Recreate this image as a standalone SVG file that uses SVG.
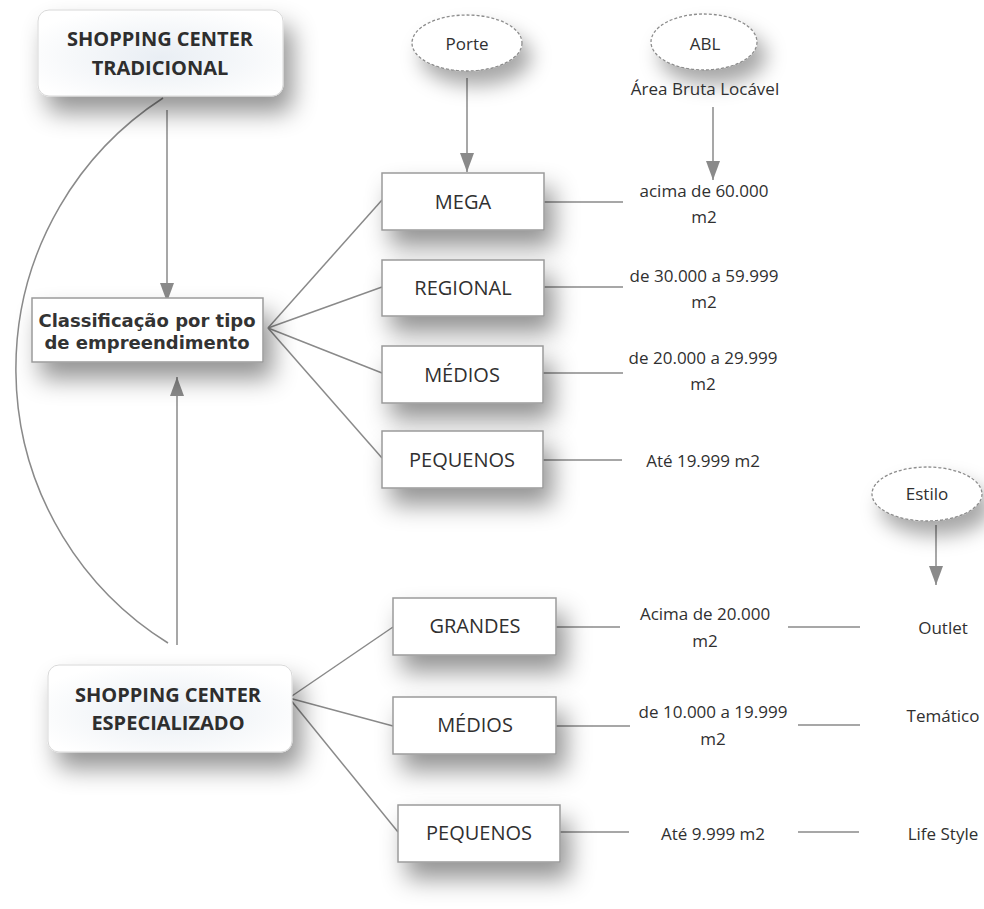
<svg xmlns="http://www.w3.org/2000/svg" width="984" height="909" viewBox="0 0 984 909">
<defs>
<style>
.box{fill:#ffffff;stroke:#9a9a9a;stroke-width:1.5}
.title{stroke:#d8d8d8;stroke-width:1}
.ell{fill:#ffffff;stroke:#8c8c8c;stroke-width:1.3;stroke-dasharray:3 2}
.ln{stroke:#8a8a8a;stroke-width:1.5;fill:none}
.t{font-family:"Open Sans","Noto Sans","DejaVu Sans",sans-serif;fill:#303030;text-anchor:middle}
.lbl{font-size:20px}
.leaf{font-size:17px}
.tb{font-family:"Open Sans","Noto Sans",sans-serif;font-weight:bold;font-size:20px;fill:#2e2e2e;text-anchor:middle}
.cb{font-family:"DejaVu Sans","Verdana",sans-serif;font-weight:bold;font-size:18px;fill:#333333;text-anchor:middle}
</style>
<filter id="sh" x="-30%" y="-40%" width="170%" height="220%">
<feDropShadow dx="9" dy="16" stdDeviation="12" flood-color="#000000" flood-opacity="0.42"/>
</filter>
<filter id="shs" x="-40%" y="-50%" width="190%" height="240%">
<feDropShadow dx="9" dy="14" stdDeviation="10" flood-color="#000000" flood-opacity="0.35"/>
</filter>
<radialGradient id="tg" cx="0.5" cy="0.55" r="0.6">
<stop offset="0" stop-color="#e9eef4"/>
<stop offset="0.6" stop-color="#f6f8fa"/>
<stop offset="1" stop-color="#ffffff"/>
</radialGradient>
<marker id="arr" markerUnits="userSpaceOnUse" markerWidth="19" markerHeight="14" viewBox="0 0 19 14" refX="19" refY="7" orient="auto">
<path d="M0,0 L19,7 L0,14 Z" fill="#8a8a8a"/>
</marker>
</defs>
<rect width="984" height="909" fill="#ffffff"/>

<g id="connectors">
<path class="ln" d="M163,98 A323,323 0 0,0 168,643"/>
<line class="ln" x1="167" y1="110" x2="167" y2="302" marker-end="url(#arr)"/>
<line class="ln" x1="177" y1="645" x2="177" y2="377" marker-end="url(#arr)"/>
<line class="ln" x1="467" y1="78" x2="467" y2="172" marker-end="url(#arr)"/>
<line class="ln" x1="713" y1="107" x2="713" y2="180" marker-end="url(#arr)"/>
<line class="ln" x1="936" y1="525" x2="936" y2="585" marker-end="url(#arr)"/>
<line class="ln" x1="268" y1="328" x2="382" y2="200"/>
<line class="ln" x1="268" y1="328" x2="382" y2="287"/>
<line class="ln" x1="268" y1="328" x2="382" y2="373"/>
<line class="ln" x1="268" y1="328" x2="382" y2="458"/>
<line class="ln" x1="544" y1="202" x2="623" y2="202"/>
<line class="ln" x1="544" y1="287" x2="623" y2="287"/>
<line class="ln" x1="543" y1="373" x2="623" y2="373"/>
<line class="ln" x1="543" y1="460" x2="622" y2="460"/>
<line class="ln" x1="289" y1="698" x2="393" y2="627"/>
<line class="ln" x1="289" y1="698" x2="393" y2="726"/>
<line class="ln" x1="289" y1="698" x2="398" y2="832"/>
<line class="ln" x1="556" y1="627" x2="620" y2="627"/>
<line class="ln" x1="556" y1="726" x2="630" y2="726"/>
<line class="ln" x1="560" y1="832" x2="629" y2="832"/>
<line class="ln" x1="788" y1="627" x2="860" y2="627"/>
<line class="ln" x1="798" y1="725" x2="860" y2="725"/>
<line class="ln" x1="798" y1="832" x2="859" y2="832"/>
</g>

<g id="tradicional">
<rect class="title" x="38" y="10" width="245" height="86" rx="11" fill="url(#tg)" filter="url(#sh)"/>
<text class="tb" x="160" y="46">SHOPPING CENTER</text>
<text class="tb" x="160" y="75">TRADICIONAL</text>
</g>

<g id="especializado">
<rect class="title" x="48" y="665" width="244" height="87" rx="11" fill="url(#tg)" filter="url(#sh)"/>
<text class="tb" x="168" y="702">SHOPPING CENTER</text>
<text class="tb" x="168" y="730">ESPECIALIZADO</text>
</g>

<g id="classificacao">
<rect class="box" x="32" y="298" width="231" height="64" filter="url(#sh)"/>
<text class="cb" x="147" y="327">Classificação por tipo</text>
<text class="cb" x="147" y="349">de empreendimento</text>
</g>

<g id="porte">
<ellipse class="ell" cx="467" cy="43" rx="55" ry="28" filter="url(#shs)"/>
<text class="t leaf" x="467" y="50">Porte</text>
</g>

<g id="abl">
<ellipse class="ell" cx="704" cy="42" rx="53" ry="28" filter="url(#shs)"/>
<text class="t leaf" x="705" y="50">ABL</text>
<text class="t leaf" x="705" y="95">Área Bruta Locável</text>
</g>

<g id="estilo">
<ellipse class="ell" cx="927" cy="494" rx="55" ry="27" filter="url(#shs)"/>
<text class="t leaf" x="927" y="500">Estilo</text>
</g>

<g id="mega">
<rect class="box" x="382" y="173" width="162" height="57" filter="url(#sh)"/>
<text class="t lbl" x="463" y="209">MEGA</text>
</g>
<g id="regional">
<rect class="box" x="382" y="260" width="162" height="56" filter="url(#sh)"/>
<text class="t lbl" x="463" y="295">REGIONAL</text>
</g>
<g id="medios1">
<rect class="box" x="382" y="346" width="161" height="57" filter="url(#sh)"/>
<text class="t lbl" x="462" y="382">MÉDIOS</text>
</g>
<g id="pequenos1">
<rect class="box" x="382" y="431" width="161" height="57" filter="url(#sh)"/>
<text class="t lbl" x="462" y="467">PEQUENOS</text>
</g>

<g id="grandes">
<rect class="box" x="393" y="598" width="163" height="57" filter="url(#sh)"/>
<text class="t lbl" x="475" y="633">GRANDES</text>
</g>
<g id="medios2">
<rect class="box" x="393" y="697" width="163" height="57" filter="url(#sh)"/>
<text class="t lbl" x="475" y="732">MÉDIOS</text>
</g>
<g id="pequenos2">
<rect class="box" x="398" y="805" width="162" height="57" filter="url(#sh)"/>
<text class="t lbl" x="479" y="840">PEQUENOS</text>
</g>

<g id="abl-mega">
<text class="t leaf" x="704" y="197">acima de 60.000</text>
<text class="t leaf" x="704" y="223">m2</text>
</g>
<g id="abl-regional">
<text class="t leaf" x="704" y="282">de 30.000 a 59.999</text>
<text class="t leaf" x="704" y="308">m2</text>
</g>
<g id="abl-medios">
<text class="t leaf" x="703" y="364">de 20.000 a 29.999</text>
<text class="t leaf" x="703" y="390">m2</text>
</g>
<g id="abl-pequenos">
<text class="t leaf" x="703" y="467">Até 19.999 m2</text>
</g>
<g id="abl-grandes">
<text class="t leaf" x="705" y="620">Acima de 20.000</text>
<text class="t leaf" x="705" y="647">m2</text>
</g>
<g id="abl-medios2">
<text class="t leaf" x="713" y="718">de 10.000 a 19.999</text>
<text class="t leaf" x="713" y="745">m2</text>
</g>
<g id="abl-pequenos2">
<text class="t leaf" x="713" y="840">Até 9.999 m2</text>
</g>

<g id="outlet"><text class="t leaf" x="943" y="634">Outlet</text></g>
<g id="tematico"><text class="t leaf" x="943" y="722">Temático</text></g>
<g id="lifestyle"><text class="t leaf" x="943" y="840">Life Style</text></g>
</svg>
